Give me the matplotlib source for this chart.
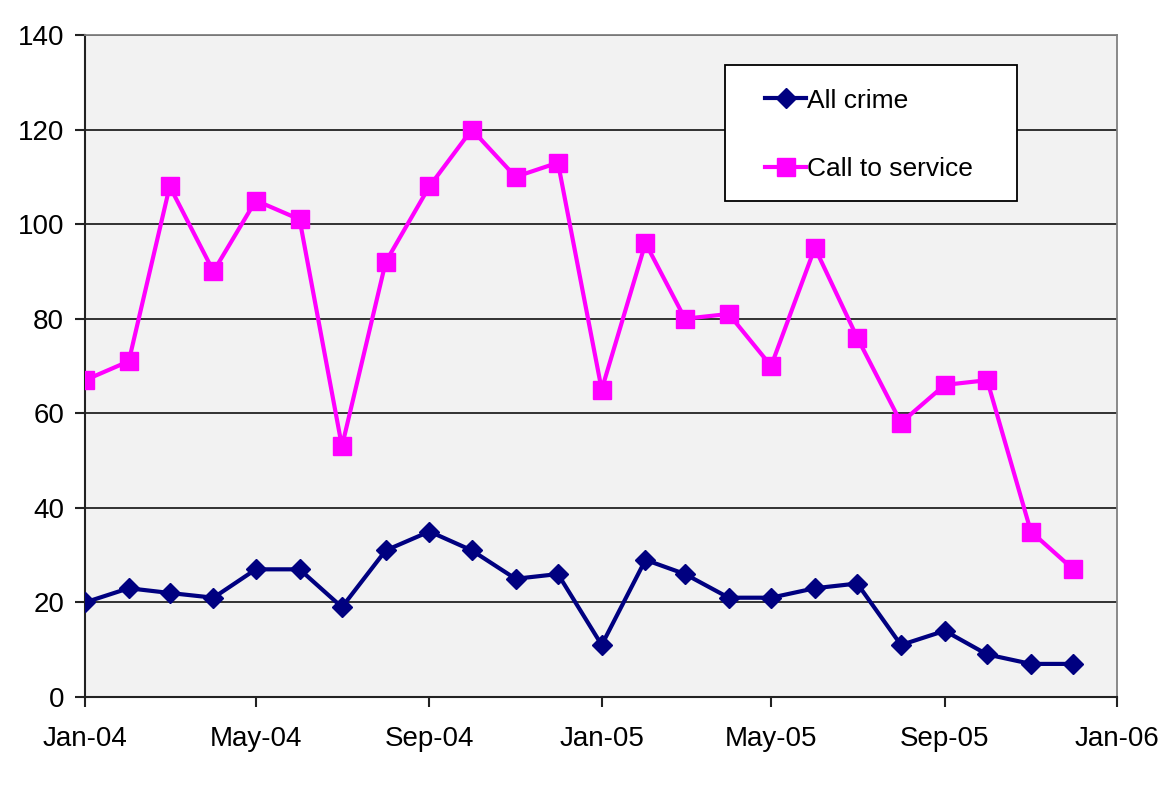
import numpy as np
import pandas as pd
import matplotlib
matplotlib.use('Agg')
import matplotlib.pyplot as plt
import matplotlib.dates as mdates
from matplotlib.patches import Rectangle

plt.rcParams['font.family'] = ['Liberation Sans', 'DejaVu Sans']

months = ['2004-01', '2004-02', '2004-03', '2004-04', '2004-05', '2004-06',
          '2004-07', '2004-08', '2004-09', '2004-10', '2004-11', '2004-12',
          '2005-01', '2005-02', '2005-03', '2005-04', '2005-05', '2005-06',
          '2005-07', '2005-08', '2005-09', '2005-10', '2005-11', '2005-12']
all_crime = [20, 23, 22, 21, 27, 27, 19, 31, 35, 31, 25, 26,
             11, 29, 26, 21, 21, 23, 24, 11, 14, 9, 7, 7]
call_service = [67, 71, 108, 90, 105, 101, 53, 92, 108, 120, 110, 113,
                65, 96, 80, 81, 70, 95, 76, 58, 66, 67, 35, 27]
tick_months = ['2004-01', '2004-05', '2004-09', '2005-01', '2005-05', '2005-09', '2006-01']

dates = pd.to_datetime(months)
ticks = pd.to_datetime(tick_months)

fig = plt.figure(figsize=(11.64, 7.89), dpi=100)
ax = fig.add_axes([85/1164, 92/789, 1032/1164, 662/789])
ax.set_facecolor('#F2F2F2')

ax.plot(dates, all_crime, color='#000080', lw=3, marker='D', ms=10,
        label='All crime', zorder=3)
ax.plot(dates, call_service, color='#FF00FF', lw=3, marker='s', ms=13,
        label='Call to service', zorder=3)

ax.set_ylim(0, 140)
ax.set_yticks(np.arange(0, 141, 20))
ax.set_xlim(ticks[0], ticks[-1])
ax.set_xticks(ticks)
ax.xaxis.set_major_formatter(mdates.DateFormatter('%b-%y'))

ax.grid(axis='y', color='#222222', lw=1.3, zorder=1)
ax.set_axisbelow(True)

for s in ['top', 'right']:
    ax.spines[s].set_color('#808080')
    ax.spines[s].set_linewidth(1.3)
for s in ['left', 'bottom']:
    ax.spines[s].set_color('#222222')
    ax.spines[s].set_linewidth(1.5)

ax.tick_params(axis='both', direction='out', length=7, width=1.5,
               labelsize=20, colors='#222222', labelcolor='black')
ax.tick_params(axis='y', pad=8)
ax.tick_params(axis='x', pad=14)

# legend box drawn separately so the inner padding matches
box = Rectangle((0.62, 0.749), 0.283, 0.206, transform=ax.transAxes,
                facecolor='white', edgecolor='black', lw=1.3, zorder=4)
ax.add_patch(box)
leg = ax.legend(loc='upper left', bbox_to_anchor=(0.659, 0.919), fontsize=19,
                frameon=False, borderpad=0, labelspacing=1.68, handlelength=1.55,
                handletextpad=0.05, borderaxespad=0)
leg.set_zorder(5)

fig.savefig('out.png', dpi=100, facecolor='white')
